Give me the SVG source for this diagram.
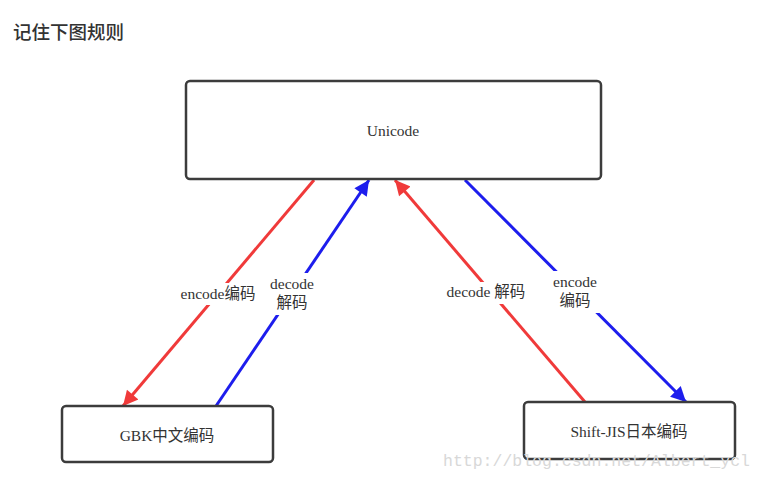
<svg xmlns="http://www.w3.org/2000/svg" width="764" height="479" viewBox="0 0 764 479">
<style>
.box{fill:#fff;stroke:#3c3c3c;stroke-width:2.5}
.lbl{font-family:"Liberation Serif","Noto Sans CJK SC",serif;font-size:15.5px;fill:#333;text-anchor:middle}
.red{stroke:#f03a3a;stroke-width:3;fill:none}
.blue{stroke:#1d1ded;stroke-width:3;fill:none}
.bg{fill:#fff}
</style>
<defs>
<marker id="ar" viewBox="0 0 10 10" refX="10" refY="5" markerWidth="5.5" markerHeight="5" markerUnits="strokeWidth" orient="auto"><path d="M0,0 L10,5 L0,10 z" fill="#f03a3a"/></marker>
<marker id="ab" viewBox="0 0 10 10" refX="10" refY="5" markerWidth="5.5" markerHeight="5" markerUnits="strokeWidth" orient="auto"><path d="M0,0 L10,5 L0,10 z" fill="#1d1ded"/></marker>
</defs>
<rect width="764" height="479" fill="#fff"/>
<text x="13" y="39" font-family="'Noto Sans CJK SC',sans-serif" font-size="18.5" font-weight="500" fill="#333">记住下图规则</text>
<g id="connectors">
<line class="red" x1="314" y1="180" x2="123" y2="406" marker-end="url(#ar)"/>
<line class="blue" x1="216" y1="406" x2="369" y2="180" marker-end="url(#ab)"/>
<line class="red" x1="585" y1="402" x2="395" y2="180" marker-end="url(#ar)"/>
<line class="blue" x1="465" y1="180" x2="686" y2="402" marker-end="url(#ab)"/>
<rect class="bg" x="177" y="283" width="84" height="22"/>
<rect class="bg" x="264" y="273" width="56" height="42"/>
<rect class="bg" x="443" y="282" width="86" height="22"/>
<rect class="bg" x="547" y="271" width="56" height="42"/>
<text class="lbl" x="218" y="299">encode编码</text>
<text class="lbl" x="292" y="289">decode</text>
<text class="lbl" x="292" y="308">解码</text>
<text class="lbl" x="486" y="297">decode 解码</text>
<text class="lbl" x="575" y="287">encode</text>
<text class="lbl" x="575" y="306">编码</text>
</g>
<g id="unicode">
<rect class="box" x="186" y="81" width="415" height="98" rx="4"/>
<text class="lbl" x="393" y="136">Unicode</text>
</g>
<g id="gbk">
<rect class="box" x="62" y="406" width="211" height="56" rx="4"/>
<text class="lbl" x="167" y="441">GBK中文编码</text>
</g>
<g id="sjis">
<rect class="box" x="524" y="402" width="211" height="57" rx="4"/>
<text class="lbl" x="629" y="437">Shift-JIS日本编码</text>
</g>
<text x="443" y="466" font-family="'Liberation Mono',monospace" font-size="16.5" fill="#d8d8d8">http://blog.csdn.net/Albert_ycl</text>
</svg>
